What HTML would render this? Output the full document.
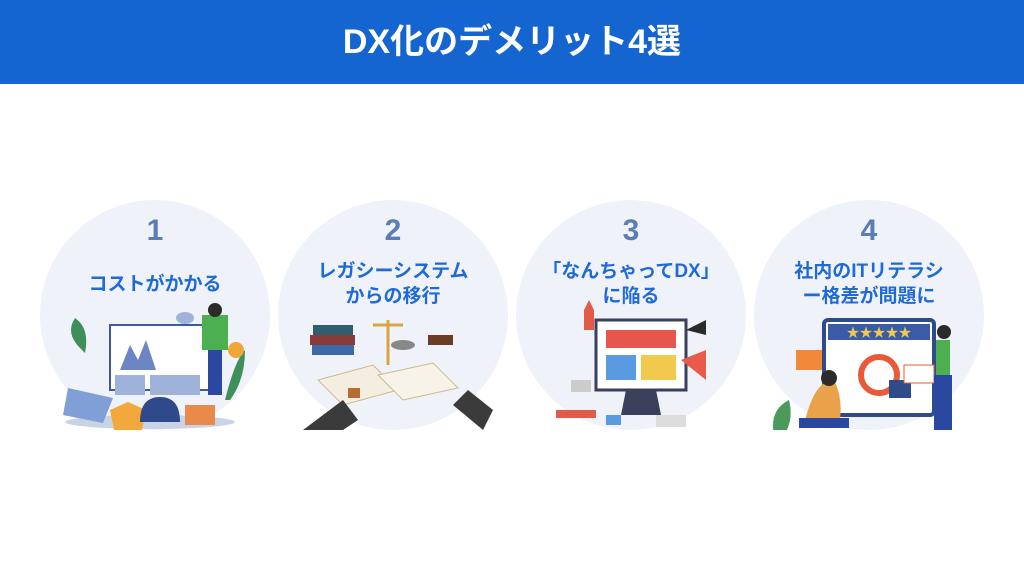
<!DOCTYPE html>
<html><head><meta charset="utf-8"><style>
body{margin:0;width:1024px;height:576px;background:#fff;position:relative;overflow:hidden;font-family:"Liberation Sans","Noto Sans CJK JP",sans-serif}
.hd{position:absolute;left:0;top:0;width:1024px;height:84px;background:#1565d0;color:#fff;font-weight:bold;font-size:34px;text-align:center;line-height:84px}
.c{position:absolute;width:230px;height:230px;border-radius:50%;background:#eff3f9;top:200px}
.n{position:absolute;width:230px;text-align:center;top:14px;font-size:30px;font-weight:bold;color:#5a7db5}
.t{position:absolute;width:230px;text-align:center;font-size:19px;font-weight:bold;color:#1f6ad8;line-height:25px}
svg{position:absolute;left:0;top:0}
</style></head><body>
<div class="hd">DX化のデメリット4選</div>

<div class="c" style="left:40px">
<div class="n">1</div><div class="t" style="top:72px">コストがかかる</div>
<svg width="230" height="230">
<ellipse cx="110" cy="222" rx="85" ry="7" fill="#c9d3e6"/>
<path d="M40 148 q-15 -15 -5 -30 q15 10 10 35z" fill="#3f8f5b"/>
<rect x="70" y="125" width="100" height="65" fill="#fff" stroke="#3d5a99" stroke-width="2"/>
<path d="M80 170 l10 -25 l8 15 l8 -20 l10 30z" fill="#6b86c2"/>
<rect x="75" y="175" width="30" height="20" fill="#9fb3da"/><rect x="110" y="175" width="50" height="20" fill="#9fb3da"/>
<path d="M28 188 l45 10 l-10 25 l-40 -8z" fill="#7f9fd6"/>
<path d="M70 210 l18 -8 l18 8 l-4 20 h-28z" fill="#f2a83b"/>
<path d="M100 222 q0 -25 20 -25 q20 0 20 25z" fill="#2e4a8a"/>
<rect x="145" y="205" width="30" height="20" fill="#e9894a"/>
<rect x="168" y="140" width="14" height="55" fill="#2a48a0"/><rect x="162" y="115" width="26" height="35" fill="#4caf50"/><circle cx="175" cy="110" r="7" fill="#2b2b2b"/>
<path d="M185 200 q10 -40 20 -50 q0 30 -15 50z" fill="#3f8f5b"/>
<circle cx="196" cy="150" r="8" fill="#f0a63a"/>
<ellipse cx="145" cy="118" rx="9" ry="6" fill="#9fb3da"/>
</svg></div>

<div class="c" style="left:278px">
<div class="n">2</div><div class="t" style="top:59px">レガシーシステム<br>からの移行</div>
<svg width="230" height="230">
<rect x="35" y="125" width="40" height="10" fill="#2f5f6f"/><rect x="32" y="135" width="45" height="10" fill="#8b3a3a"/><rect x="34" y="145" width="42" height="10" fill="#3c6aa8"/>
<path d="M110 120 v45 M95 125 h30" stroke="#d9a441" stroke-width="3"/>
<ellipse cx="125" cy="145" rx="12" ry="5" fill="#888"/>
<rect x="150" y="135" width="25" height="10" fill="#6b3b25"/>
<path d="M40 180 l55 -15 l25 25 l-55 15z" fill="#f3eee0" stroke="#c9b98e"/>
<path d="M100 175 l55 -12 l25 25 l-55 12z" fill="#f7f3e8" stroke="#c9b98e"/>
<path d="M25 230 l40 -30 l15 20 l-30 20z" fill="#3b3b3b"/>
<path d="M205 230 l-30 -25 l15 -15 l25 20z" fill="#3b3b3b"/>
<rect x="70" y="188" width="12" height="10" fill="#b96b35"/>
</svg></div>

<div class="c" style="left:516px">
<div class="n">3</div><div class="t" style="top:59px">「なんちゃってDX」<br>に陥る</div>
<svg width="230" height="230">
<path d="M68 110 l5 -10 l5 10 v20 h-10z" fill="#e25b4a"/>
<rect x="80" y="120" width="90" height="70" fill="#fff" stroke="#3a3f5c" stroke-width="3"/>
<rect x="90" y="130" width="70" height="18" fill="#e5574c"/>
<rect x="90" y="155" width="30" height="25" fill="#5a9ae0"/><rect x="125" y="155" width="35" height="25" fill="#f2c94c"/>
<path d="M110 190 l-5 25 h40 l-5 -25z" fill="#3a3f5c"/>
<path d="M165 160 l25 -10 v30z" fill="#e85a4a"/>
<path d="M170 130 l20 -10 v15z" fill="#2b2b2b"/>
<rect x="40" y="210" width="40" height="8" fill="#e25b4a"/><rect x="90" y="215" width="15" height="10" fill="#5a9ae0"/><rect x="140" y="215" width="30" height="12" fill="#ddd"/>
<rect x="55" y="180" width="20" height="12" fill="#ccc"/>
</svg></div>

<div class="c" style="left:754px">
<div class="n">4</div><div class="t" style="top:59px">社内のITリテラシ<br>ー格差が問題に</div>
<svg width="230" height="230">
<rect x="70" y="120" width="110" height="95" rx="4" fill="#fff" stroke="#2f4b8c" stroke-width="4"/>
<rect x="74" y="124" width="102" height="16" fill="#3b5ba8"/>
<text x="125" y="137" font-size="13" fill="#f2c94c" text-anchor="middle">★★★★★</text>
<circle cx="125" cy="175" r="18" fill="none" stroke="#e85a3a" stroke-width="6"/>
<rect x="135" y="180" width="22" height="18" fill="#2f4b8c"/>
<rect x="42" y="150" width="26" height="20" fill="#f08a3a"/>
<rect x="150" y="165" width="30" height="18" fill="#fff" stroke="#e85a3a"/>
<path d="M20 235 q-5 -25 15 -35 q5 20 -5 35z" fill="#4b9a5b"/>
<path d="M50 225 q10 -45 30 -45 q10 20 5 45z" fill="#e9a24a"/><circle cx="75" cy="178" r="8" fill="#2b2b2b"/>
<rect x="45" y="218" width="50" height="10" fill="#2a48a0"/>
<rect x="182" y="140" width="14" height="35" fill="#4caf50"/><rect x="180" y="175" width="18" height="55" fill="#2a48a0"/><circle cx="190" cy="132" r="7" fill="#2b2b2b"/>
</svg></div>
</body></html>
